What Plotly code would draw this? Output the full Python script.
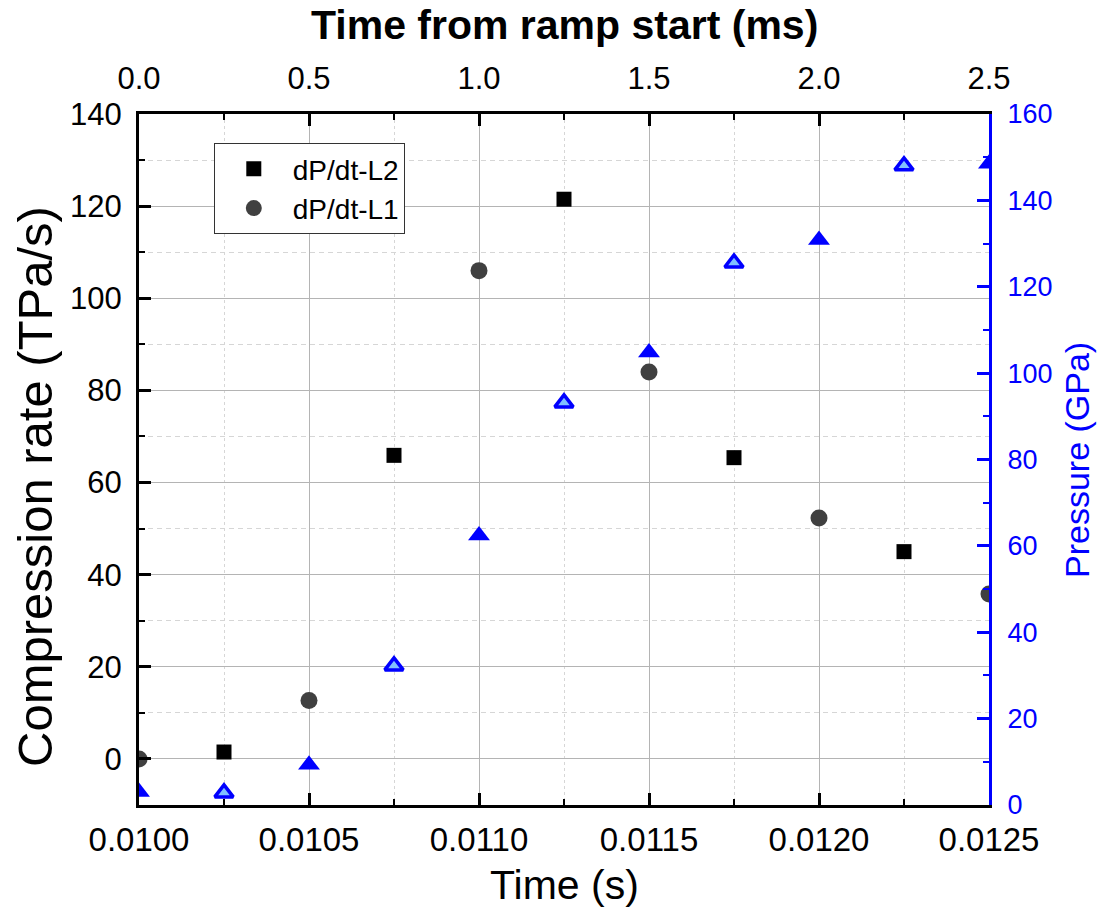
import plotly.graph_objects as go

# ---- data ----
time_L2 = [0.01025, 0.01075, 0.01125, 0.01175, 0.01225]
rate_L2 = [1.5, 65.9, 121.5, 65.4, 45.0]

time_L1 = [0.0100, 0.0105, 0.0110, 0.0115, 0.0120, 0.0125]
rate_L1 = [0.0, 12.7, 106.0, 84.0, 52.3, 35.8]

pressure_L1 = [3.0, 9.3, 62.4, 104.8, 130.8, 148.5]   # filled triangles
pressure_L2 = [2.8, 32.2, 93.1, 125.5, 148.0]         # open triangles

ramp_start = 0.0100
time_ms = [(t - ramp_start) * 1000 for t in time_L1]

FONT = "Liberation Sans, Arial, sans-serif"
BLUE = "#0000ff"

fig = go.Figure()

fig.add_trace(go.Scatter(
    x=time_L2, y=rate_L2, mode="markers", name="dP/dt-L2",
    marker=dict(symbol="square", size=15, color="#000000"),
    xaxis="x", yaxis="y"))
fig.add_trace(go.Scatter(
    x=time_L1, y=rate_L1, mode="markers", name="dP/dt-L1",
    marker=dict(symbol="circle", size=17, color="#404040"),
    xaxis="x", yaxis="y"))
fig.add_trace(go.Scatter(
    x=time_L1, y=pressure_L1, mode="markers", name="P-L1", showlegend=False,
    marker=dict(symbol="triangle-up", size=19, color=BLUE),
    xaxis="x", yaxis="y2"))
fig.add_trace(go.Scatter(
    x=time_L2, y=pressure_L2, mode="markers", name="P-L2", showlegend=False,
    marker=dict(symbol="triangle-up", size=16, color="#80c0ff",
                line=dict(color=BLUE, width=3.5)),
    xaxis="x", yaxis="y2"))
# invisible trace to establish the top (ms) axis
fig.add_trace(go.Scatter(
    x=time_ms, y=rate_L1, mode="markers", showlegend=False, hoverinfo="skip",
    marker=dict(opacity=0), xaxis="x2", yaxis="y"))

fig.update_layout(
    width=1103, height=924,
    paper_bgcolor="white", plot_bgcolor="white",
    margin=dict(l=139, r=114, t=114, b=119),
    font=dict(family=FONT, color="#000000"),
    showlegend=True,
    legend=dict(x=0.088, y=0.958, xanchor="left", yanchor="top",
                bgcolor="white", bordercolor="#333333", borderwidth=1,
                font=dict(family=FONT, size=28, color="#000000"),
                itemwidth=68, tracegroupgap=0),
    xaxis=dict(
        range=[0.0100, 0.0125], tick0=0.0100, dtick=0.0005, tickformat=".4f",
        ticks="inside", ticklen=12, tickwidth=2.5, tickcolor="#000000",
        showline=True, linewidth=3, linecolor="#000000", mirror=False,
        showgrid=True, gridcolor="#b4b4b4", gridwidth=1, zeroline=False,
        tickfont=dict(family=FONT, size=33, color="#000000"),
        ticklabelstandoff=3, automargin=False,
        minor=dict(dtick=0.00025, ticks="inside", ticklen=6, tickwidth=2,
                   tickcolor="#000000", showgrid=True, gridcolor="#d6d6d6",
                   griddash="3px,3px", gridwidth=1)),
    xaxis2=dict(
        overlaying="x", side="top", anchor="y",
        range=[0, 2.5], tick0=0, dtick=0.5, tickformat=".1f",
        ticks="inside", ticklen=12, tickwidth=2.5, tickcolor="#000000",
        showline=True, linewidth=3, linecolor="#000000",
        showgrid=False, zeroline=False,
        tickfont=dict(family=FONT, size=31, color="#000000"),
        ticklabelstandoff=10, automargin=False,
        minor=dict(dtick=0.25, ticks="inside", ticklen=6, tickwidth=2,
                   tickcolor="#000000", showgrid=False)),
    yaxis=dict(
        range=[-10, 140], tick0=0, dtick=20,
        ticks="inside", ticklen=12, tickwidth=2.5, tickcolor="#000000",
        showline=True, linewidth=3, linecolor="#000000",
        showgrid=True, gridcolor="#b4b4b4", gridwidth=1, zeroline=False,
        tickfont=dict(family=FONT, size=31, color="#000000"),
        ticklabelstandoff=8, automargin=False,
        minor=dict(dtick=10, ticks="inside", ticklen=6, tickwidth=2,
                   tickcolor="#000000", showgrid=True, gridcolor="#d6d6d6",
                   griddash="5px,4px", gridwidth=1)),
    yaxis2=dict(
        overlaying="y", side="right", anchor="x",
        range=[0, 160], tick0=0, dtick=20,
        ticks="inside", ticklen=12, tickwidth=2.5, tickcolor=BLUE,
        showline=True, linewidth=3, linecolor=BLUE,
        showgrid=False, zeroline=False,
        tickfont=dict(family=FONT, size=27, color=BLUE),
        ticklabelstandoff=10, automargin=False,
        minor=dict(dtick=10, ticks="inside", ticklen=6, tickwidth=2,
                   tickcolor=BLUE, showgrid=False)),
    annotations=[
        dict(text="Compression rate (TPa/s)", xref="paper", yref="paper",
             x=(35 - 139) / 850, y=(805 - 487) / 691, textangle=-90,
             showarrow=False, xanchor="center", yanchor="middle",
             font=dict(family=FONT, size=49, color="#000000")),
        dict(text="Pressure (GPa)", xref="paper", yref="paper",
             x=(1077 - 139) / 850, y=(805 - 460) / 691, textangle=-90,
             showarrow=False, xanchor="center", yanchor="middle",
             font=dict(family=FONT, size=34, color=BLUE)),
        dict(text="Time (s)", xref="paper", yref="paper",
             x=(564 - 139) / 850, y=(805 - 885) / 691,
             showarrow=False, xanchor="center", yanchor="middle",
             font=dict(family=FONT, size=41, color="#000000")),
        dict(text="<b>Time from ramp start (ms)</b>", xref="paper", yref="paper",
             x=(564 - 139) / 850, y=(805 - 25) / 691,
             showarrow=False, xanchor="center", yanchor="middle",
             font=dict(family=FONT, size=41, color="#000000")),
    ],
)

fig.write_html("out.html",
               config={"displayModeBar": False},
               post_script="document.body.style.margin='0px';"
                           "document.body.style.overflow='hidden';")
